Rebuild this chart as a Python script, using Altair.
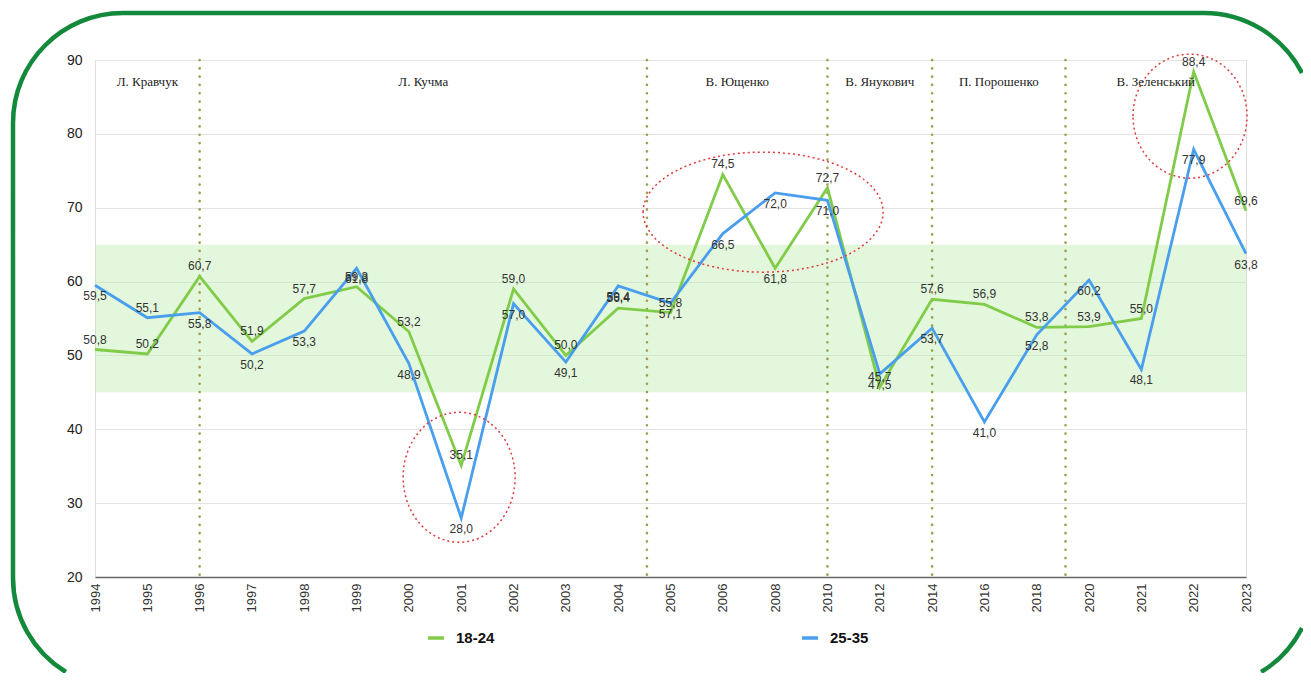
import math
import altair as alt
import pandas as pd

# ---- data ----
years = ["1994", "1995", "1996", "1997", "1998", "1999", "2000", "2001", "2002",
         "2003", "2004", "2005", "2006", "2008", "2010", "2012", "2014", "2016",
         "2018", "2020", "2021", "2022", "2023"]
age_18_24 = [50.8, 50.2, 60.7, 51.9, 57.7, 59.3, 53.2, 35.1, 59.0, 50.0, 56.4, 55.8,
             74.5, 61.8, 72.7, 45.7, 57.6, 56.9, 53.8, 53.9, 55.0, 88.4, 69.6]
age_25_35 = [59.5, 55.1, 55.8, 50.2, 53.3, 61.8, 48.9, 28.0, 57.0, 49.1, 59.4, 57.1,
             66.5, 72.0, 71.0, 47.5, 53.7, 41.0, 52.8, 60.2, 48.1, 77.9, 63.8]
series_names = ["18-24", "25-35"]

# years whose value label sits on the other side of the point than usual
flip_18_24 = ["2008"]
flip_25_35 = ["1995"]

presidents = ["Л. Кравчук", "Л. Кучма", "В. Ющенко", "В. Янукович", "П. Порошенко", "В. Зеленський"]
# term boundaries on the year-index axis (dotted separators)
term_bounds = [2, 10.55, 14, 16, 18.55]

band_low, band_high = 45, 65

# highlighted areas (centre index, centre value, radius x px, radius y px)
ell_idx = [6.96, 12.77, 20.93]
ell_val = [33.5, 69.4, 82.4]
ell_rx = [56, 120, 57]
ell_ry = [65, 60, 62]

# ---- layout ----
W, H = 1151, 517
PAD = {"left": 87, "top": 52, "right": 57, "bottom": 96}
OX, OY = 8 + PAD["left"], 8 + PAD["top"]          # plot origin on the page
CLIP_X = 8 + PAD["left"] + W + PAD["right"] - 1   # drawable page limits
CLIP_Y = 8 + PAD["top"] + H + PAD["bottom"] - 1
GREEN = "#80cc48"
BLUE = "#4a9eee"

rows = []
for i, y in enumerate(years):
    rows.append({"idx": i, "year": y, "value": age_18_24[i], "series": series_names[0],
                 "flip": y in flip_18_24})
    rows.append({"idx": i, "year": y, "value": age_25_35[i], "series": series_names[1],
                 "flip": y in flip_25_35})
df = pd.DataFrame(rows)
df["above"] = (df["series"] == series_names[0]) != df["flip"]

edges = [0] + term_bounds + [len(years) - 1]
pres_df = pd.DataFrame({
    "name": presidents,
    "mid": [(edges[k] + edges[k + 1]) / 2 for k in range(len(presidents))],
    "val": [87.0] * len(presidents),
})
bound_df = pd.DataFrame({"b": term_bounds})
dummy = pd.DataFrame({"a": [0]})

label_expr = "[" + ",".join(f"'{y}'" for y in years) + "][datum.value]"

xscale = alt.Scale(domain=[0, len(years) - 1], nice=False, zero=False)
yscale = alt.Scale(domain=[20, 90], nice=False, zero=False)

x_enc = alt.X("idx:Q", scale=xscale,
              axis=alt.Axis(values=list(range(len(years))), labelExpr=label_expr,
                            labelAngle=-90, labelFontSize=13, labelColor="#333",
                            labelFont="Liberation Sans", labelPadding=6,
                            grid=False, ticks=False, domainColor="#666",
                            domainWidth=1.5, title=None))
y_enc = alt.Y("value:Q", scale=yscale,
              axis=alt.Axis(values=[20, 30, 40, 50, 60, 70, 80, 90], labelFontSize=14,
                            labelColor="#222", labelFont="Liberation Sans",
                            labelPadding=13, domain=False, ticks=False, grid=True,
                            gridColor="#e4e4e4", gridWidth=1, title=None))

# ---- decorative rounded page frame (partly outside the page, so only the visible parts) ----
FL, FT, FR, FB, FRAD = 13, 13, 1314, 688, 110


def P(x, y):
    return f"{x - OX:.2f} {y - OY:.2f}"


cxl, cxr = FL + FRAD, FR - FRAD
cyt, cyb = FT + FRAD, FB - FRAD
dx_b = math.sqrt(FRAD ** 2 - (CLIP_Y - cyb) ** 2)
dy_r = math.sqrt(FRAD ** 2 - (CLIP_X - cxr) ** 2)
frame_path = (
    f"M {P(cxl - dx_b, CLIP_Y)} A {FRAD} {FRAD} 0 0 1 {P(FL, cyb)} "
    f"L {P(FL, cyt)} A {FRAD} {FRAD} 0 0 1 {P(cxl, FT)} "
    f"L {P(cxr, FT)} A {FRAD} {FRAD} 0 0 1 {P(CLIP_X, cyt - dy_r)} "
    f"M {P(CLIP_X, cyb + dy_r)} A {FRAD} {FRAD} 0 0 1 {P(cxr + dx_b, CLIP_Y)}"
)
frame = alt.Chart(dummy).mark_point(
    shape=frame_path, size=4, filled=False, stroke="#13893c", strokeWidth=4.5,
    opacity=1
).encode(x=alt.value(0), y=alt.value(0))

band = alt.Chart(pd.DataFrame({"lo": [band_low], "hi": [band_high]})).mark_rect(
    color="#b9eda9", opacity=0.42
).encode(x=alt.value(0), x2=alt.value(W),
         y=alt.Y("lo:Q", scale=yscale), y2="hi:Q")

dividers = alt.Chart(bound_df).mark_rule(
    color="#a09e4e", strokeWidth=2.6, strokeDash=[0.1, 8.2], strokeCap="round"
).encode(x=alt.X("b:Q", scale=xscale))

lines = alt.Chart(df).mark_line(strokeWidth=2.8).encode(
    x=x_enc, y=y_enc,
    color=alt.Color("series:N",
                    scale=alt.Scale(domain=series_names, range=[GREEN, BLUE]),
                    legend=alt.Legend(orient="none", legendX=331, legendY=568,
                                      direction="horizontal", columns=2,
                                      columnPadding=300, title=None,
                                      symbolType="stroke", symbolSize=256,
                                      symbolStrokeWidth=3.5, labelOffset=10,
                                      labelFontSize=15, labelFontWeight="bold",
                                      labelFont="Liberation Sans", labelColor="#111")),
    order="idx:Q",
)

label_base = alt.Chart(df).transform_calculate(
    lab="replace(format(datum.value, '.1f'), '.', ',')"
)
labels_up = label_base.transform_filter(alt.datum.above == True).mark_text(
    dy=-10, fontSize=12, font="Liberation Sans", color="#333"
).encode(x=alt.X("idx:Q", scale=xscale), y=alt.Y("value:Q", scale=yscale), text="lab:N")
labels_down = label_base.transform_filter(alt.datum.above == False).mark_text(
    dy=11, fontSize=12, font="Liberation Sans", color="#333"
).encode(x=alt.X("idx:Q", scale=xscale), y=alt.Y("value:Q", scale=yscale), text="lab:N")

pres = alt.Chart(pres_df).mark_text(
    font="Liberation Serif", fontSize=13, color="#222"
).encode(x=alt.X("mid:Q", scale=xscale), y=alt.Y("val:Q", scale=yscale), text="name:N")

k = 0.5523
ellipses = []
for cx, cy, rx, ry in zip(ell_idx, ell_val, ell_rx, ell_ry):
    r = ry / rx
    path = (f"M -1 0 C -1 {-k*r:.4f} {-k:.4f} {-r:.4f} 0 {-r:.4f} "
            f"C {k:.4f} {-r:.4f} 1 {-k*r:.4f} 1 0 "
            f"C 1 {k*r:.4f} {k:.4f} {r:.4f} 0 {r:.4f} "
            f"C {-k:.4f} {r:.4f} -1 {k*r:.4f} -1 0 Z")
    ellipses.append(
        alt.Chart(pd.DataFrame({"cx": [cx], "cy": [cy]})).mark_point(
            shape=path, size=(2 * rx) ** 2, filled=False, stroke="#e03c3c",
            strokeWidth=1.5, strokeDash=[2, 3], opacity=1
        ).encode(x=alt.X("cx:Q", scale=xscale), y=alt.Y("cy:Q", scale=yscale))
    )

chart = alt.layer(
    frame, band, dividers, lines, *ellipses, labels_up, labels_down, pres
).properties(
    width=W, height=H,
    autosize=alt.AutoSizeParams(type="none"),
    padding=PAD,
).configure_view(stroke=None).configure(background="white")

chart.save("out.html", embed_options={"renderer": "svg", "actions": False})
